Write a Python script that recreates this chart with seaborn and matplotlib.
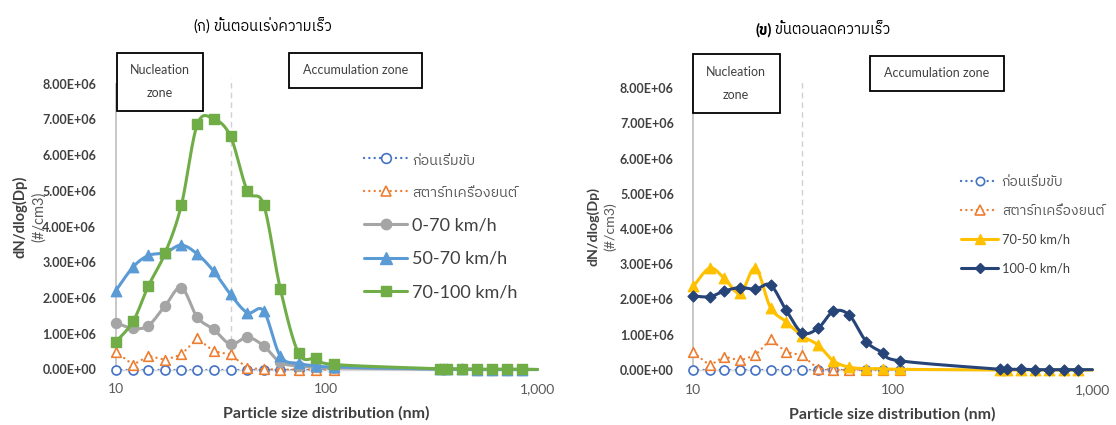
import numpy as np
import matplotlib
matplotlib.use("Agg")
import matplotlib.pyplot as plt
import matplotlib.text as mtext
import seaborn as sns
from matplotlib import font_manager
from matplotlib.ft2font import FT2Font
from matplotlib.lines import Line2D
from matplotlib.patches import Rectangle
from matplotlib.ticker import FixedLocator, FuncFormatter, NullLocator

# ---------------------------------------------------------------- data
# particle size channels (nm)
size_fine = [10.0, 12.1, 14.3, 17.2, 20.5, 24.4, 29.2, 35.1, 42.2, 50.4, 60.5, 73.9, 89.7, 108.7]
size_coarse = [345, 375, 440, 520, 612, 720, 850, 1005]
size_all = size_fine + size_coarse

# number concentration, dN/dlog(Dp) in units of 1e6 #/cm3
before_drive = [0.0] * 14
engine_start = [0.50, 0.13, 0.38, 0.27, 0.42, 0.87, 0.51, 0.42, 0.04, 0.01, 0.0, 0.0, 0.0, 0.0]

acc_0_70 = [1.31, 1.15, 1.23, 1.79, 2.29, 1.46, 1.12, 0.71, 0.90, 0.66, 0.20, 0.10, 0.06, 0.04,
            0.01, 0.01, 0.01, 0.0, 0.0, 0.0, 0.0, 0.0]
acc_50_70 = [2.20, 2.87, 3.19, 3.27, 3.48, 3.23, 2.75, 2.10, 1.59, 1.64, 0.37, 0.17, 0.10, 0.07,
             0.01, 0.01, 0.01, 0.0, 0.0, 0.0, 0.0, 0.0]
acc_70_100 = [0.77, 1.35, 2.34, 3.27, 4.60, 6.86, 7.01, 6.52, 5.00, 4.61, 2.25, 0.45, 0.31, 0.14,
              0.02, 0.02, 0.01, 0.01, 0.01, 0.01, 0.01, 0.0]
dec_70_50 = [2.37, 2.89, 2.60, 2.18, 2.89, 1.77, 1.37, 0.97, 0.71, 0.26, 0.08, 0.04, 0.04, 0.02,
             0.0, 0.0, 0.0, 0.0, 0.0, 0.0, 0.0, 0.0]
dec_100_0 = [2.10, 2.08, 2.24, 2.34, 2.29, 2.41, 1.70, 1.06, 1.18, 1.66, 1.56, 0.80, 0.49, 0.26,
             0.02, 0.02, 0.02, 0.01, 0.01, 0.01, 0.01, 0.01]

label_before = "ก่อนเริ่มขับ"
label_start = "สตาร์ทเครื่องยนต์"
title_acc = ("(ก)", " ขั้นตอนเร่งความเร็ว")
title_dec = ("(ข)", " ขั้นตอนลดความเร็ว")
xlabel = "Particle size distribution (nm)"
ylabel = "dN/dlog(Dp)"
yunit = "(#/cm3)"
x_ticks = [10, 100, 1000]
x_ticklabels = ["10", "100", "1,000"]
y_ticks = [i * 1e6 for i in range(9)]
zone_split = 35.1

# ---------------------------------------------------------------- fonts
sns.set_theme(style="white")


def thai_family():
    found = []
    for f in font_manager.fontManager.ttflist:
        try:
            if 0x0E01 in FT2Font(f.fname).get_charmap():
                found.append(f.name)
        except Exception:
            pass
    for name in found:
        if "Sans" in name and "Looped" not in name:
            return name
    return found[0] if found else None


thai = thai_family()
families = ["Lato"] + ([thai] if thai else []) + ["DejaVu Sans"]
plt.rcParams["font.family"] = families

DARK = "#404040"
MID = "#595959"

# ---------------------------------------------------------------- helpers


def smooth(x, y, n=24):
    """Cubic Bezier smoothing through every point (log-x space)."""
    lx = np.log10(np.asarray(x, float))
    pts = np.column_stack([lx, np.asarray(y, float)])
    P = np.vstack([pts[0], pts, pts[-1]])
    t = np.linspace(0, 1, n, endpoint=False)[:, None]
    segs = []
    for i in range(1, len(P) - 2):
        p0, p1, p2, p3 = P[i - 1], P[i], P[i + 1], P[i + 2]
        c1 = p1 + (p2 - p0) / 6.0
        c2 = p2 - (p3 - p1) / 6.0
        segs.append((1 - t) ** 3 * p1 + 3 * (1 - t) ** 2 * t * c1
                    + 3 * (1 - t) * t ** 2 * c2 + t ** 3 * p2)
    segs.append(pts[-1:])
    out = np.vstack(segs)
    return 10 ** out[:, 0], out[:, 1]


def draw_series(ax, x, y, style, z):
    x = np.asarray(x, float)
    y = np.asarray(y, float) * 1e6
    if style["smooth"]:
        lx, ly = smooth(x, y)
    else:
        lx, ly = x, y
    sns.lineplot(x=lx, y=ly, ax=ax, sort=False, estimator=None, color=style["color"],
                 lw=style["lw"], linestyle=style["ls"], zorder=z, clip_on=False,
                 solid_capstyle="round", dash_capstyle="round")
    keep = x <= 1000
    face = "white" if style["open"] else style["color"]
    sns.scatterplot(x=x[keep], y=y[keep], ax=ax, marker=style["marker"], s=style["s"],
                    color=face, edgecolor=style["color"], linewidth=style["mew"],
                    zorder=z + 1, clip_on=False, legend=False)


def handle(style, ms):
    face = "white" if style["open"] else style["color"]
    return Line2D([], [], color=style["color"], lw=style["lw"], linestyle=style["ls"],
                  marker=style["marker"], markersize=ms, markerfacecolor=face,
                  markeredgecolor=style["color"], markeredgewidth=style["mew"],
                  dash_capstyle="round")


DOT = (0, (0.05, 2.2))
st_before = dict(color="#4472C4", lw=1.7, ls=DOT, marker="o", s=42, open=True, mew=1.2, smooth=False)
st_start = dict(color="#ED7D31", lw=1.7, ls=DOT, marker="^", s=48, open=True, mew=1.2, smooth=False)
st_gray = dict(color="#A5A5A5", lw=2.2, ls="-", marker="o", s=52, open=False, mew=1.0, smooth=True)
st_lblue = dict(color="#5B9BD5", lw=2.2, ls="-", marker="^", s=56, open=False, mew=1.0, smooth=True)
st_green = dict(color="#70AD47", lw=2.2, ls="-", marker="s", s=52, open=False, mew=1.0, smooth=True)
st_yellow = dict(color="#FFC000", lw=2.2, ls="-", marker="^", s=56, open=False, mew=1.0, smooth=True)
st_navy = dict(color="#264478", lw=2.2, ls="-", marker="D", s=30, open=False, mew=1.0, smooth=True)

# ---------------------------------------------------------------- figure
W, H = 1116, 425
fig = plt.figure(figsize=(W / 100, H / 100), dpi=100)
fig.patch.set_facecolor("white")


def fx(px):
    return px / W


def fy(py):
    return 1 - py / H


ax1 = fig.add_axes([fx(115.7), fy(369.5), fx(537) - fx(115.7), fy(83.6) - fy(369.5)])
ax2 = fig.add_axes([fx(693.3), fy(370), fx(1092) - fx(693.3), fy(88) - fy(370)])

for ax in (ax1, ax2):
    ax.set_xscale("log")
    ax.set_xlim(10, 1000)
    ax.set_ylim(0, 8e6)
    ax.set_facecolor("white")
    ax.grid(False)
    for side in ("top", "right"):
        ax.spines[side].set_visible(False)
    ax.spines["left"].set_color("#BFBFBF")
    ax.spines["left"].set_linewidth(1.2)
    ax.spines["bottom"].set_color("#D9D9D9")
    ax.spines["bottom"].set_linewidth(1.0)
    ax.xaxis.set_major_locator(FixedLocator(x_ticks))
    ax.xaxis.set_minor_locator(NullLocator())
    ax.set_xticklabels(x_ticklabels)
    ax.yaxis.set_major_locator(FixedLocator(y_ticks))
    ax.yaxis.set_major_formatter(FuncFormatter(lambda v, p: f"{v:.2E}"))
    ax.tick_params(axis="both", length=0)
    ax.tick_params(axis="x", pad=10, labelsize=10, labelcolor=MID)
    ax.tick_params(axis="y", pad=14, labelsize=9.0, labelcolor=DARK)
    for lab in ax.get_yticklabels():
        lab.set_fontweight("bold")
    ax.set_xlabel(xlabel, fontsize=11.5, fontweight="bold", color=DARK, labelpad=8)
    ax.set_ylabel("")

# dashed boundary between nucleation and accumulation zones
ax1.axvline(zone_split, ymin=0, ymax=1.02, color="#D0D0D0", lw=1.0, ls=(0, (4, 3)),
            clip_on=False, zorder=1)
ax2.axvline(zone_split, ymin=0, ymax=1.028, color="#D0D0D0", lw=1.0, ls=(0, (4, 3)),
            clip_on=False, zorder=1)

# acceleration panel
draw_series(ax1, size_fine, before_drive, st_before, 2)
draw_series(ax1, size_fine, engine_start, st_start, 4)
draw_series(ax1, size_all, acc_0_70, st_gray, 6)
draw_series(ax1, size_all, acc_50_70, st_lblue, 8)
draw_series(ax1, size_all, acc_70_100, st_green, 10)

# deceleration panel
draw_series(ax2, size_fine, before_drive, st_before, 2)
draw_series(ax2, size_fine, engine_start, st_start, 4)
draw_series(ax2, size_all, dec_70_50, st_yellow, 6)
draw_series(ax2, size_all, dec_100_0, st_navy, 8)

# legends
leg1 = fig.legend(
    [handle(st_before, 7), handle(st_start, 7.5), handle(st_gray, 7.5),
     handle(st_lblue, 8), handle(st_green, 7.5)],
    [label_before, label_start, "0-70 km/h", "50-70 km/h", "70-100 km/h"],
    loc="upper left", bbox_to_anchor=(fx(364), fy(152)), frameon=False,
    fontsize=13, handlelength=2.4, handletextpad=0.25, labelspacing=0.99,
    borderpad=0, borderaxespad=0)
for i, t in enumerate(leg1.get_texts()):
    if i < 2:
        t.set_fontsize(10.3)
        t.set_color(MID)
    else:
        t.set_color(DARK)

leg2 = fig.legend(
    [handle(st_before, 6), handle(st_start, 6.5), handle(st_yellow, 6.5), handle(st_navy, 5)],
    [label_before, label_start, "70-50 km/h", "100-0 km/h"],
    loc="upper left", bbox_to_anchor=(fx(961), fy(176)), frameon=False,
    fontsize=9.3, handlelength=2.9, handletextpad=0.25, labelspacing=1.3,
    borderpad=0, borderaxespad=0)
for i, t in enumerate(leg2.get_texts()):
    if i < 2:
        t.set_fontsize(10)
        t.set_color(MID)
    else:
        t.set_color(DARK)


# titles: prefix and text drawn as two pieces so the prefix weight can differ
def title(x0, cy, parts, bold_prefix):
    t1 = fig.text(fx(x0), fy(cy), parts[0], ha="left", va="center", fontsize=10.5,
                  fontweight="bold" if bold_prefix else "normal", color="black")
    fig.add_artist(mtext.Annotation(parts[1], xy=(1, 0), xycoords=t1, va="bottom",
                                    ha="left", fontsize=10.5, color="black"))


title(193, 27, title_acc, False)
title(755, 30, title_dec, True)

# axis titles
fig.text(fx(20), fy(217), ylabel, rotation=90, ha="center", va="center",
         fontsize=10.6, fontweight="bold", color=DARK)
fig.text(fx(39), fy(217), yunit, rotation=90, ha="center", va="center",
         fontsize=10.5, color=MID)
fig.text(fx(593), fy(227), ylabel, rotation=90, ha="center", va="center",
         fontsize=10.2, fontweight="bold", color=DARK)
fig.text(fx(610), fy(227), yunit, rotation=90, ha="center", va="center",
         fontsize=10.2, color=MID)


# zone boxes
def zone_box(x0, y0, x1, y1, text):
    fig.add_artist(Rectangle((fx(x0), fy(y1)), fx(x1) - fx(x0), fy(y0) - fy(y1),
                             transform=fig.transFigure, fill=True, facecolor="white",
                             edgecolor="black", lw=1.3, zorder=20))
    fig.text(fx((x0 + x1) / 2), fy((y0 + y1) / 2), text, ha="center", va="center",
             fontsize=9, color=DARK, linespacing=2.1, zorder=21)


zone_box(116.5, 52.5, 202.5, 110.5, "Nucleation\nzone")
zone_box(288.5, 52.5, 422, 88, "Accumulation zone")
zone_box(693, 54, 779.5, 112.5, "Nucleation\nzone")
zone_box(869.5, 55.5, 1004, 90.5, "Accumulation zone")

fig.savefig("out.png", dpi=100, facecolor="white")
